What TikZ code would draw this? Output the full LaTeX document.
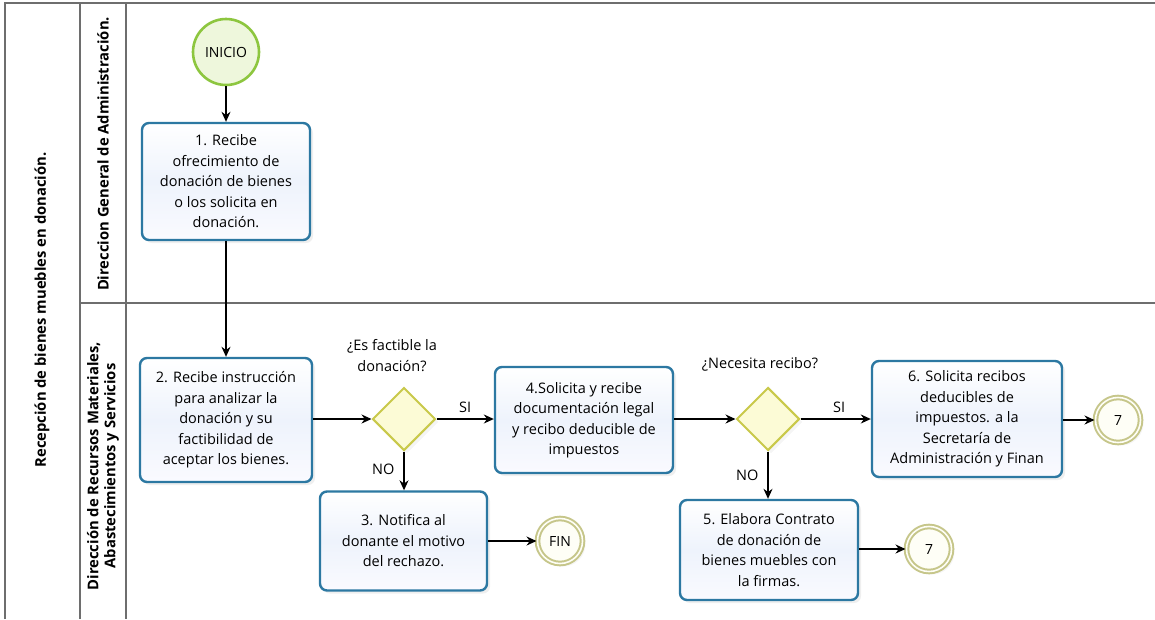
\documentclass[tikz,border=0pt]{standalone}
\usepackage{fontspec}
\setmainfont{Open Sans}
\usetikzlibrary{arrows.meta,shadows,shapes.geometric}
\definecolor{lanegray}{HTML}{6E6E6E}
\definecolor{taskblue}{HTML}{2C78A2}
\definecolor{taskfill}{HTML}{EEF3FC}
\definecolor{startgreen}{HTML}{8DC63F}
\definecolor{startfill}{HTML}{EEF7DC}
\definecolor{gateline}{HTML}{C9C94A}
\definecolor{gatefill}{HTML}{FCFBD6}
\definecolor{endline}{HTML}{C6C68A}
\definecolor{endfill}{HTML}{FEFEF6}
\tikzset{
  lane/.style={draw=lanegray,line width=1.4pt},
  lanelabel/.style={rotate=90,font=\bfseries\fontsize{14.8}{17}\selectfont,align=center,inner sep=0},
  task/.style={rectangle,rounded corners=7pt,draw=taskblue,line width=2.4pt,
    top color=white,bottom color=taskfill!85!blue!10,middle color=taskfill,
    align=center,inner sep=0,font=\fontsize{14.5}{20.5}\selectfont,
    drop shadow={opacity=0.12,shadow xshift=3pt,shadow yshift=-3pt}},
  gate/.style={diamond,aspect=1,draw=gateline,line width=2pt,fill=gatefill,
    minimum width=63pt,minimum height=63pt,inner sep=0,
    drop shadow={opacity=0.08,shadow xshift=3pt,shadow yshift=-3pt}},
  startev/.style={circle,draw=startgreen,line width=2.6pt,fill=startfill,
    minimum size=66pt,inner sep=0,font=\fontsize{14}{16}\selectfont},
  endev/.style={circle,draw=endline,double=endfill,double distance=1.6pt,line width=2pt,
    fill=endfill,minimum size=45pt,inner sep=0,font=\fontsize{14}{16}\selectfont,
    drop shadow={opacity=0.08,shadow xshift=3pt,shadow yshift=-3pt}},
  flow/.style={line width=1.3pt,-{Stealth[length=10pt,width=9pt]}},
  note/.style={font=\fontsize{14.5}{21}\selectfont,align=center,inner sep=0}
}
\begin{document}
\begin{tikzpicture}[x=1pt,y=-1pt]
\useasboundingbox (0,0) rectangle (1155,619);
\fill[white] (0,0) rectangle (1155,619);

% pool and lane frame
\draw[lane] (5,619) -- (5,3) -- (1155,3);
\draw[lane] (80,3) -- (80,619);
\draw[lane] (126,3) -- (126,619);
\draw[lane] (80,303) -- (1155,303);

\node[lanelabel] (pool) at (42,310) {Recepción de bienes muebles en donación.};
\node[lanelabel] (laneA) at (103,154) {Direccion General de Administración.};
\node[lanelabel] (laneB) at (103,466) {Dirección de Recursos Materiales,\\Abastecimientos y Servicios};

% events
\node[startev] (inicio) at (226,52) {INICIO};
\node[endev] (fin) at (560,541) {FIN};
\node[endev] (sieteA) at (1118,420) {7};
\node[endev] (sieteB) at (929,549) {7};

% tasks
\node[task,minimum width=168pt,minimum height=117pt] (t1) at (226,181.5)
  {1. Recibe\\ofrecimiento de\\donación de bienes\\o los solicita en\\donación.};
\node[task,minimum width=172pt,minimum height=124pt] (t2) at (226,420)
  {2. Recibe instrucción\\para analizar la\\donación y su\\factibilidad de\\aceptar los bienes.};
\node[task,minimum width=167pt,minimum height=99pt] (t3) at (403.5,541)
  {3. Notifica al\\donante el motivo\\del rechazo.};
\node[task,minimum width=178pt,minimum height=106pt] (t4) at (584,420)
  {4.Solicita y recibe\\documentación legal\\y recibo deducible de\\impuestos};
\node[task,minimum width=178pt,minimum height=100pt] (t5) at (769,550)
  {5. Elabora Contrato\\de donación de\\bienes muebles con\\la firmas.};
\node[task,minimum width=190pt,minimum height=116pt] (t6) at (967,419)
  {6. Solicita recibos\\deducibles de\\impuestos. a la\\Secretaría de\\Administración y Finan};

% gateways
\node[gate] (g1) at (404,419) {};
\node[gate] (g2) at (768,419) {};
\node[note] (q1) at (392,356) {¿Es factible la\\donación?};
\node[note] (q2) at (760,364) {¿Necesita recibo?};

% sequence flows
\draw[flow] (inicio) -- (t1);
\draw[flow] (t1) -- (t2);
\draw[flow] (t2.east |- g1) -- (g1.west);
\draw[flow] (g1.east) -- (t4.west |- g1) node[note,pos=0.5,above=6pt] (si1) {SI};
\draw[flow] (g1.south) -- (g1.south |- t3.north) node[note,pos=0.45,left=9pt] (no1) {NO};
\draw[flow] (t3.east |- fin) -- (fin);
\draw[flow] (t4.east |- g2) -- (g2.west);
\draw[flow] (g2.east) -- (t6.west |- g2) node[note,pos=0.55,above=6pt] (si2) {SI};
\draw[flow] (g2.south) -- (g2.south |- t5.north) node[note,pos=0.5,left=9pt] (no2) {NO};
\draw[flow] (t6.east |- sieteA) -- (sieteA);
\draw[flow] (t5.east |- sieteB) -- (sieteB);
\end{tikzpicture}
\end{document}
